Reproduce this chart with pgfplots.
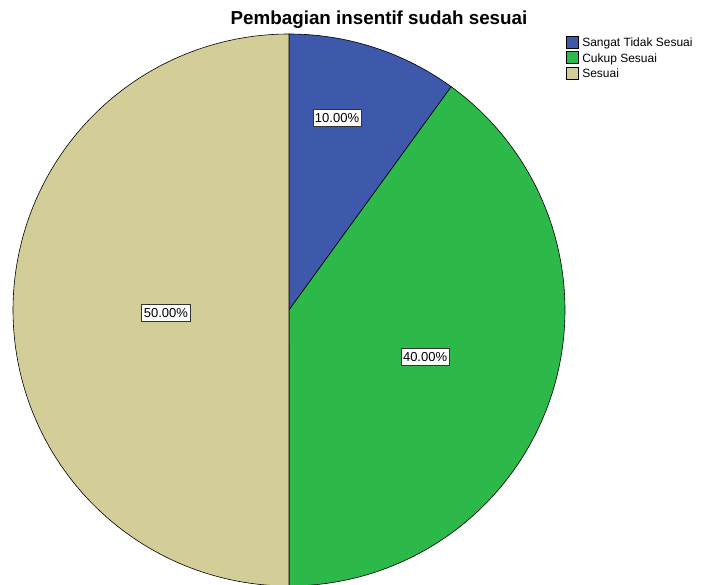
\documentclass[border=0pt]{standalone}
\usepackage{pgfplots}
\usepackage{pgfplotstable}
\pgfplotsset{compat=1.18}
\usepackage{fontspec}
\setmainfont{Liberation Sans}
\definecolor{cBlue}{HTML}{3E58AC}
\definecolor{cGreen}{HTML}{2DB84A}
\definecolor{cTan}{HTML}{D3CE98}
\pgfplotstableread{
cat percent
1 10
2 40
3 50
}\piedata
\pgfplotstablegetelem{0}{percent}\of\piedata \let\pA\pgfplotsretval
\pgfplotstablegetelem{1}{percent}\of\piedata \let\pB\pgfplotsretval
\pgfplotstablegetelem{2}{percent}\of\piedata \let\pC\pgfplotsretval
\pgfmathsetmacro{\aS}{90}
\pgfmathsetmacro{\aE}{90-3.6*\pA}
\pgfmathsetmacro{\bE}{\aE-3.6*\pB}
\pgfmathsetmacro{\cE}{\bE-3.6*\pC}
\begin{document}
\begin{tikzpicture}
\useasboundingbox (0,0) rectangle (705pt,585pt);
\begin{axis}[
  at={(289pt,275pt)}, anchor=center,
  scale only axis, width=552pt, height=552pt,
  xmin=-1, xmax=1, ymin=-1, ymax=1,
  hide axis, clip=false,
  legend style={at={(axis description cs:1.002,0.997)}, anchor=north west,
    draw=none, fill=none, inner sep=0pt, font=\fontsize{12}{13}\selectfont,
    row sep=1.5pt, legend cell align=left,
    nodes={inner ysep=1.5pt, inner xsep=3.5pt}},
  legend image code/.code={\draw[#1, draw=black, line width=0.5pt] (0pt,-5pt) rectangle (12pt,7pt);},
]
\addplot[fill=cBlue, draw=black, line width=0.6pt, domain=\aE:\aS, samples=60]
  ({cos(x)},{sin(x)}) -- (axis cs:0,0) -- cycle;
\addlegendentry{Sangat Tidak Sesuai}
\addplot[fill=cGreen, draw=black, line width=0.6pt, domain=\bE:\aE, samples=150]
  ({cos(x)},{sin(x)}) -- (axis cs:0,0) -- cycle;
\addlegendentry{Cukup Sesuai}
\addplot[fill=cTan, draw=black, line width=0.6pt, domain=\cE:\bE, samples=180]
  ({cos(x)},{sin(x)}) -- (axis cs:0,0) -- cycle;
\addlegendentry{Sesuai}
\tikzset{lbl/.style={fill=white, draw=black!80, line width=0.8pt, inner xsep=2pt, inner ysep=4pt, font=\fontsize{13}{14}\selectfont}}
\node[lbl] at (axis cs:0.174,0.696) {10.00\%};
\node[lbl] at (axis cs:0.493,-0.170) {40.00\%};
\node[lbl] at (axis cs:-0.446,-0.011) {50.00\%};
\end{axis}
\node[anchor=base, font=\bfseries\fontsize{18.8}{20}\selectfont] at (379pt,560pt) {Pembagian insentif sudah sesuai};
\end{tikzpicture}
\end{document}
